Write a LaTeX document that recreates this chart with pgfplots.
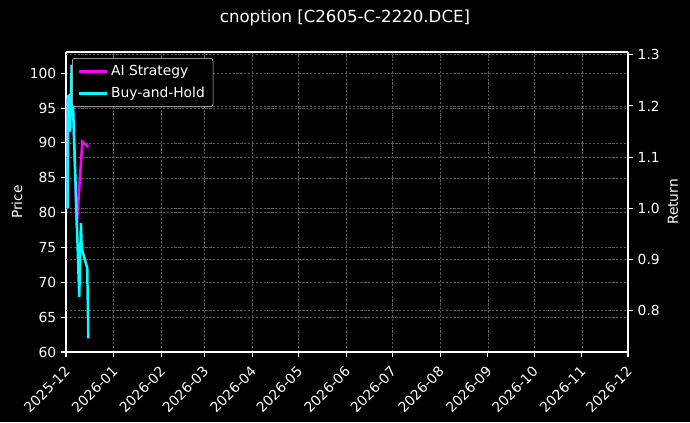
\documentclass[border=0pt]{standalone}
\usepackage{fontspec}
\setmainfont{DejaVu Sans}
\usepackage{pgfplots}
\pgfplotsset{compat=1.18}
\definecolor{mplmag}{RGB}{255,0,255}
\definecolor{mplcyan}{RGB}{0,255,255}
\begin{document}
\begin{tikzpicture}
\useasboundingbox (-0.66in,-0.70in) rectangle (6.24in,3.52in);
\fill[black] (-0.66in,-0.70in) rectangle (6.24in,3.52in);
\pgfplotsset{
  every axis/.append style={
    /pgf/number format/assume math mode=true,
    tick label style={font=\fontsize{10}{12}\selectfont, text=white},
    label style={font=\fontsize{10}{12}\selectfont, text=white},
    axis line style={white, line width=0.8pt},
    major tick style={white, line width=0.8pt},
    major tick length=3.5pt,
    tick align=outside,
    grid style={dash pattern=on 1.6pt off 1.2pt, white!35!black, line width=0.4pt},
  }
}
\begin{axis}[at={(0,0)}, anchor=south west, scale only axis,
  width=5.62in, height=3.00in,
  xmin=0, xmax=365, ymin=60, ymax=103.05,
  xtick={0,31,62,90,121,151,182,212,243,274,304,335,365},
  xticklabels={2025-12,2026-01,2026-02,2026-03,2026-04,2026-05,2026-06,2026-07,2026-08,2026-09,2026-10,2026-11,2026-12},
  xticklabel style={xshift=-1.8pt, yshift=-4.5pt, rotate=45, anchor=north east, inner sep=1pt},
  ytick={60,65,70,75,80,85,90,95,100},
  xmajorgrids, ymajorgrids,
  axis y line*=left, axis x line*=bottom,
  ylabel={Price},
  ylabel style={at={(axis description cs:-0.0872,0.5)}, anchor=center, rotate=0},
]
\end{axis}
\begin{axis}[at={(0,0)}, anchor=south west, scale only axis,
  width=5.62in, height=3.00in,
  xmin=0, xmax=365, ymin=0.7193, ymax=1.3053,
  axis x line=none, axis y line*=right,
  ytick={0.8,0.9,1.0,1.1,1.2,1.3},
  yticklabel style={/pgf/number format/.cd, fixed, fixed zerofill, precision=1},
  ymajorgrids,
  ylabel={Return},
  ylabel style={at={(axis description cs:1.080,0.5)}, anchor=center},
  legend style={at={(0.0107,0.98)}, anchor=north west, fill=black, draw=white!85!black,
    text=white, rounded corners=2pt, font=\fontsize{10}{12}\selectfont,
    inner xsep=4pt, inner ysep=3pt, row sep=3pt},
  legend image code/.code={\draw[#1, line width=1.8pt] (0in,0in) -- (0.28in,0in);},
  legend cell align=left,
]
\addplot[mplmag, line width=1.8pt] coordinates {
  (1,1.000) (1.3,1.218) (2.5,1.221) (2.7,1.150) (3.7,1.280) (7.0,0.965) (10.6,1.130) (14.5,1.120)
};
\addlegendentry{AI Strategy}
\addplot[mplcyan, line width=1.8pt] coordinates {
  (1,1.000) (1.3,1.218) (2.5,1.221) (2.7,1.150) (3.7,1.280) (8.6,0.827) (9.7,0.971) (10.2,0.922) (13.8,0.883) (14.5,0.746)
};
\addlegendentry{Buy-and-Hold}
\end{axis}
\draw[white, line width=0.8pt] (0,3.00in) -- (5.62in,3.00in);
\node[text=white, font=\fontsize{12}{14}\selectfont] at (2.79in,3.34in) {cnoption [C2605-C-2220.DCE]};
\end{tikzpicture}
\end{document}
